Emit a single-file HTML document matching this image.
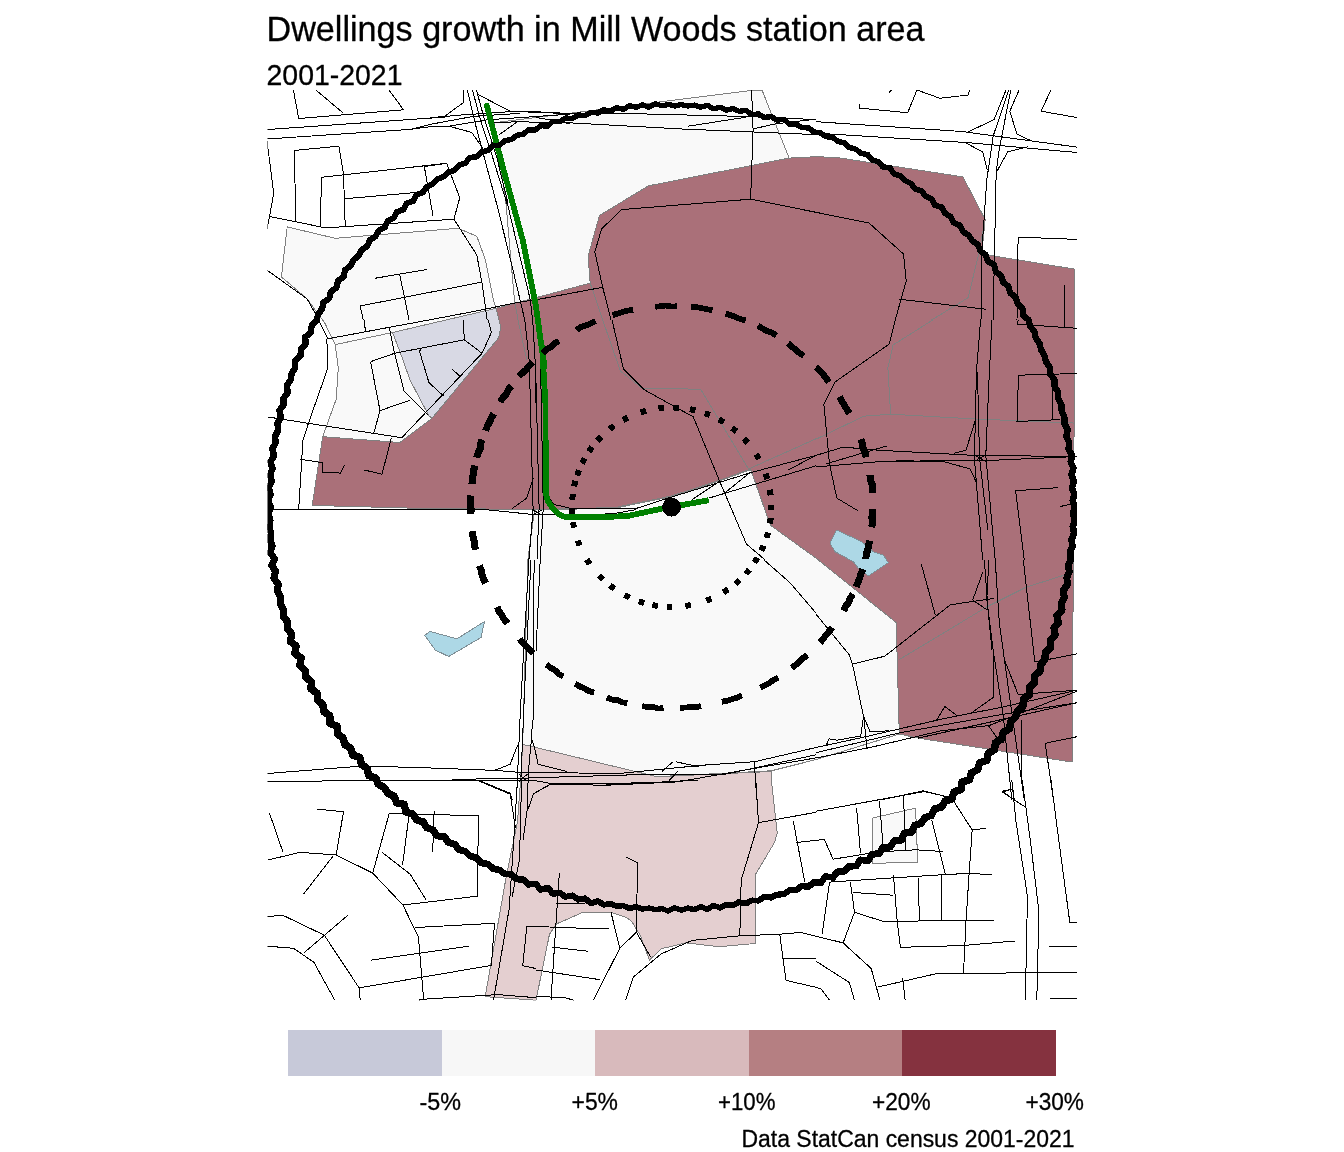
<!DOCTYPE html>
<html lang="en"><head><meta charset="utf-8"><title>Dwellings growth in Mill Woods station area</title>
<style>html,body{margin:0;padding:0;background:#fff}svg{display:block}</style></head>
<body>
<svg width="1344" height="1152" viewBox="0 0 1344 1152">
<defs><clipPath id="panel"><rect x="267.5" y="90" width="809.5" height="910.5"/></clipPath></defs>
<rect width="1344" height="1152" fill="#fff"/>
<g clip-path="url(#panel)" shape-rendering="crispEdges" stroke-linejoin="round">
<polygon points="494.1,122.8 751.6,90.4 762.0,90.0 789.1,158.1 648.5,185.8 599.5,215.4 588.1,256.0 590.2,283.1 515.0,303.6 514.4,299.4 510.1,250.8 505.9,202.2" fill="#f9f9f9" stroke="#808080" stroke-width="1"/>
<polygon points="287.2,226.9 335.2,238.3 458.1,228.3 476.8,236.2 485.2,259.2 493.5,300.8 496.0,308.3 392.5,332.5 399.8,351.2 410.2,380.4 428.9,415.8 432.0,418.3 399.8,442.5 322.7,436.7 336.2,399.2 338.3,367.9 335.2,344.6 324.8,323.1 307.0,298.8 281.4,276.9" fill="#f9f9f9" stroke="#808080" stroke-width="1"/>
<polygon points="392.5,332.5 496.0,308.3 500.8,327.3 498.7,337.7 432.0,418.3 428.9,415.8 410.2,380.4 399.8,351.2" fill="#d8d9e4" stroke="#808080" stroke-width="1"/>
<polygon points="312.2,505.4 322.7,436.7 399.8,442.5 432.0,418.3 498.7,337.7 500.8,327.3 496.0,308.3 536.0,297.7 590.2,283.1 588.1,256.0 599.5,215.4 648.5,185.8 789.1,158.1 816.0,156.7 836.8,157.5 962.9,176.9 985.2,219.6 981.6,254.0 1075.0,269.2 1073.3,560.0 1072.2,762.1 918.1,738.1 899.3,734.0 896.2,622.5 816.0,558.1 770.4,525.2 750.6,469.0 719.3,480.4 671.4,496.0 615.2,507.5 536.0,509.6 410.2,508.1" fill="#aa7079" stroke="#808080" stroke-width="1"/>
<polygon points="536.0,510.0 615.2,508.1 671.4,496.7 719.3,481.0 750.6,469.6 770.4,525.2 816.0,558.1 896.2,622.5 899.3,734.0 816.0,759.6 771.4,770.8 656.8,776.7 536.0,747.5 522.7,744.4 527.9,560.0 534.3,511.7" fill="#f9f9f9" stroke="#808080" stroke-width="1"/>
<polygon points="522.7,744.4 536.0,747.5 656.8,776.7 771.4,771.5 771.4,780.0 777.2,833.1 774.5,842.5 755.2,874.8 755.2,943.5 719.3,946.7 686.0,942.9 661.0,948.8 649.5,960.2 640.2,935.2 631.8,921.7 626.6,917.5 611.0,912.3 582.9,912.3 556.8,923.8 549.5,934.2 536.0,1000.2 485.2,996.7 506.0,877.9 517.5,821.7 520.6,780.0" fill="#e4cfd0" stroke="#808080" stroke-width="1"/>
<polygon points="872.2,818.1 915.6,808.1 917.7,862.3 872.2,863.3" fill="#f9f9f9" stroke="#808080" stroke-width="1"/>
<g fill="none" stroke="#808080" stroke-width="1">
<polyline points="335.2,344.6 392.5,332.5"/>
<polyline points="590.2,283.1 602.7,320.0"/>
<polyline points="602.7,320.0 620.4,371.0 642.2,388.3 700.6,389.2 748.5,469.0"/>
<polyline points="748.5,469.0 816.0,438.8"/>
<polyline points="985.2,219.6 978.5,255.0 968.1,297.7 931.6,320.0"/>
<polyline points="932.7,320.0 893.1,345.0 887.9,367.9 890.6,414.2"/>
<polyline points="816.0,439.2 863.9,416.2 890.6,414.2 975.4,419.0 1075.0,423.1"/>
<polyline points="899.3,659.6 986.8,606.9 1026.4,587.1 1066.0,574.6"/>
<polyline points="505.9,202.2 510.1,250.8 514.4,299.4 518.0,320.0 526.8,359.6"/>
</g>
<polygon points="424.8,635.4 430.0,631.5 457.0,638.8 484.5,621.5 481.0,637.5 448.7,656.5 435.2,650.0" fill="#add8e6" stroke="#7f8f96" stroke-width="1"/>
<polygon points="836.7,530.0 830.0,543.3 835.0,551.7 853.3,561.7 858.3,568.3 868.3,576.0 888.3,562.7 883.3,555.0 873.3,551.7 861.7,541.7" fill="#add8e6" stroke="#7f8f96" stroke-width="1"/>
<g fill="none" stroke="#000" stroke-width="1">
<polyline points="293.5,90.4 298.7,118.5 403.5,109.8 389.3,90.4"/>
<polyline points="316.4,90.4 343.5,113.3"/>
<polyline points="266.8,129.6 444.5,117.1"/>
<polyline points="266.8,139.0 410.2,129.4"/>
<polyline points="266.8,139.0 273.7,193.5 269.5,216.5 266.8,230.0"/>
<polyline points="269.5,216.5 325.8,227.9 453.9,219.2 459.8,197.7 446.6,163.3 424.3,166.5 433.1,216.5"/>
<polyline points="294.5,150.4 338.9,146.2 343.5,173.8 345.2,225.8"/>
<polyline points="294.5,150.4 295.6,221.7"/>
<polyline points="321.6,177.3 446.6,163.3"/>
<polyline points="321.6,177.3 320.2,225.8"/>
<polyline points="344.5,198.8 426.8,191.5"/>
<polyline points="266.8,270.0 307.0,298.8 316.4,315.4"/>
<polyline points="453.9,219.2 476.8,255.0 482.0,283.1 487.2,320.0"/>
<polyline points="374.8,278.3 426.8,269.6"/>
<polyline points="399.8,274.8 409.1,320.0"/>
<polyline points="360.2,306.0 482.0,282.1"/>
<polyline points="360.2,306.0 363.3,320.0"/>
<polyline points="463.3,90.0 463.1,102.8 444.6,116.3 430.0,117.9"/>
<polyline points="467.3,90.0 475.8,125.7 496.7,204.0"/>
<polyline points="472.5,90.0 480.0,118.4 492.5,156.9 507.1,204.0"/>
<polyline points="476.4,90.0 484.2,118.4 496.7,156.9 508.1,204.0"/>
<polyline points="477.9,94.4 510.2,111.3 570.0,113.7"/>
<polyline points="430.0,117.9 461.2,115.0 511.2,111.6 532.6,111.6 570.0,113.5"/>
<polyline points="430.0,124.4 473.8,116.3 519.6,113.4"/>
<polyline points="430.0,126.7 448.8,126.2 486.2,119.9 570.0,114.2"/>
<polyline points="448.8,126.2 471.7,132.4 483.1,148.6"/>
<polyline points="498.8,135.0 517.5,121.7 570.0,123.1"/>
<polyline points="494.1,122.8 517.5,121.7"/>
<polyline points="496.7,204.0 511.3,262.9 520.5,301.9 524.8,320.0"/>
<polyline points="507.5,204.0 518.6,250.8 530.2,299.4 532.6,320.0"/>
<polyline points="318.5,320.0 327.9,338.8 389.3,327.3 428.9,320.0"/>
<polyline points="326.8,338.8 327.9,367.9 308.1,424.2 302.9,440.8 298.7,509.6"/>
<polyline points="364.3,320.0 365.4,331.5"/>
<polyline points="389.3,327.3 394.5,353.3 403.9,390.8 427.9,414.8"/>
<polyline points="370.6,361.7 394.5,353.3 464.3,339.8 482.0,353.3"/>
<polyline points="422.7,347.1 419.5,351.2 428.9,382.5 443.5,396.0"/>
<polyline points="463.3,320.0 464.3,339.8"/>
<polyline points="488.3,320.0 491.4,332.5 482.0,353.3 401.8,437.7 326.8,426.2 267.5,416.9"/>
<polyline points="370.6,361.7 380.0,410.6 373.7,433.5"/>
<polyline points="380.0,410.6 410.2,400.2"/>
<polyline points="451.8,369.0 461.2,377.3"/>
<polyline points="391.4,437.7 382.0,474.2 364.3,470.0"/>
<polyline points="299.8,459.2 322.7,462.7 322.7,472.1 340.4,473.1 344.5,465.4"/>
<polyline points="273.7,509.6 485.2,509.6 536.0,514.8"/>
<polyline points="512.2,508.5 526.8,498.1 533.1,478.3"/>
<polyline points="524.8,320.0 529.3,361.7 533.1,509.6 528.9,560.0"/>
<polyline points="532.7,320.0 535.2,361.7 536.0,403.3"/>
<polyline points="536.0,112.9 619.3,113.3 746.4,116.5 816.0,119.6"/>
<polyline points="536.0,117.5 567.2,122.7 681.8,129.0 816.0,134.6"/>
<polyline points="688.1,126.2 746.4,117.1"/>
<polyline points="752.7,129.0 775.6,123.8 816.0,119.2"/>
<polyline points="751.6,90.4 753.1,130.0 750.6,199.2"/>
<polyline points="621.4,209.6 750.6,199.2 816.0,212.3"/>
<polyline points="621.4,209.6 601.6,229.0 594.8,251.9 602.7,287.3 611.0,320.0"/>
<polyline points="536.0,299.8 602.7,287.3"/>
<polyline points="888.5,93.5 891.4,90.0"/>
<polyline points="859.8,104.0 859.3,108.1 907.7,112.7 917.0,90.0 940.0,98.3 968.1,95.0 969.8,90.0"/>
<polyline points="816.0,121.7 961.8,131.5 1077.0,147.1"/>
<polyline points="816.0,133.1 966.0,142.5 1077.0,152.5"/>
<polyline points="1006.0,90.0 994.1,119.6 967.7,132.1"/>
<polyline points="1008.7,90.0 993.1,136.2 986.8,180.0 981.6,254.0 981.0,320.0"/>
<polyline points="1010.8,90.0 999.3,148.8 996.2,171.7 993.1,320.0"/>
<polyline points="1019.1,90.0 1009.8,111.2 1017.0,134.2 1032.7,141.5"/>
<polyline points="965.0,142.5 982.7,151.9 987.2,169.6"/>
<polyline points="1028.5,146.7 1007.7,151.9 996.2,172.7"/>
<polyline points="1051.0,90.0 1041.0,111.2 1077.0,117.5"/>
<polyline points="1077.0,239.4 1032.7,237.7 1018.1,237.7 1017.0,320.0"/>
<polyline points="1064.3,285.2 1064.3,320.0"/>
<polyline points="816.0,212.3 869.1,223.1 903.5,254.0 906.2,281.0 895.2,320.0"/>
<polyline points="899.3,299.2 985.8,309.2"/>
<polyline points="612.0,320.0 623.5,369.0 644.3,389.8 693.3,416.9 719.3,480.4 746.4,544.0 765.2,560.0"/>
<polyline points="548.5,497.1 553.7,504.4 571.4,508.5 636.0,508.5 671.4,497.1 752.7,472.1 816.0,455.4"/>
<polyline points="536.0,514.8 571.4,514.8 613.1,513.8 636.0,509.6"/>
<polyline points="692.2,499.6 719.3,481.5"/>
<polyline points="723.5,494.0 750.6,472.1"/>
<polyline points="708.9,498.1 816.0,465.8"/>
<polyline points="788.1,470.0 816.0,455.4"/>
<polyline points="536.0,382.5 539.1,507.5 537.0,560.0"/>
<polyline points="540.2,347.1 543.3,507.5 540.2,560.0"/>
<polyline points="895.2,320.0 889.3,344.0 835.2,381.9 823.9,404.4 829.5,463.8 836.8,498.1 857.7,510.6"/>
<polyline points="980.6,320.0 976.4,372.1 975.4,420.0 974.3,457.5 982.7,560.0"/>
<polyline points="992.0,320.0 988.9,382.5 985.8,455.4 995.2,560.0"/>
<polyline points="977.5,372.1 979.5,457.5 987.9,530.4"/>
<polyline points="816.0,455.4 843.1,447.1 878.5,450.2 974.3,455.4 1077.0,456.5"/>
<polyline points="816.0,466.9 878.5,461.7 944.1,460.6 985.8,460.6 1077.0,456.5"/>
<polyline points="826.4,463.8 861.8,453.3 886.8,446.0"/>
<polyline points="896.2,460.6 944.1,461.7 970.2,469.0 976.4,482.5"/>
<polyline points="953.5,453.3 966.0,450.2 975.4,420.0"/>
<polyline points="1018.1,320.0 1017.7,324.2 1077.0,328.3"/>
<polyline points="1064.3,320.0 1064.3,328.3"/>
<polyline points="1077.0,373.5 1018.5,375.2 1017.0,421.5 1059.8,419.6"/>
<polyline points="1052.5,382.5 1052.5,419.6"/>
<polyline points="1057.7,487.7 1015.6,490.8 1024.3,560.0"/>
<polyline points="1060.2,506.5 1070.2,504.4"/>
<polyline points="267.5,773.5 360.2,766.2 412.2,767.3 495.6,770.4 520.6,772.5"/>
<polyline points="267.5,781.2 381.0,780.8 536.0,780.8"/>
<polyline points="451.8,779.4 520.6,778.3"/>
<polyline points="478.9,780.4 510.2,793.3 512.2,800.0"/>
<polyline points="495.6,770.0 510.2,764.2 517.5,745.4"/>
<polyline points="528.9,560.0 520.6,705.8 517.5,776.7 516.4,800.0"/>
<polyline points="531.0,560.0 524.8,685.0 521.0,776.7"/>
<polyline points="534.1,560.0 533.1,720.0"/>
<polyline points="536.0,772.5 619.3,773.5 702.7,765.2 754.8,761.7 816.0,747.5"/>
<polyline points="536.0,777.7 640.2,774.6 723.5,774.6 816.0,754.8"/>
<polyline points="602.7,785.4 677.7,781.9 754.8,768.3 816.0,757.9"/>
<polyline points="536.0,792.3 550.6,784.0"/>
<polyline points="536.0,753.8 538.1,764.2 567.2,771.5"/>
<polyline points="662.0,771.5 672.5,762.1"/>
<polyline points="675.6,761.7 698.5,766.7"/>
<polyline points="669.3,780.4 677.7,771.5"/>
<polyline points="754.3,761.7 756.8,800.0"/>
<polyline points="540.2,560.0 536.0,651.7"/>
<polyline points="764.1,560.0 790.2,582.9 816.0,613.1"/>
<polyline points="816.0,614.2 849.3,654.8 852.5,664.2 863.9,718.3 867.0,748.5"/>
<polyline points="852.5,664.2 884.8,656.2 950.4,604.8 974.3,601.2 994.1,598.5"/>
<polyline points="921.2,563.8 935.2,614.6"/>
<polyline points="982.7,572.5 972.7,600.0 987.2,610.0"/>
<polyline points="984.3,560.0 987.9,607.9 993.1,649.6 1003.5,718.3 1011.8,800.0"/>
<polyline points="988.9,560.0 986.8,598.5 992.0,649.6"/>
<polyline points="995.2,560.0 999.3,622.5 1010.8,705.8 1024.3,800.0"/>
<polyline points="993.1,649.6 993.1,697.5 971.2,713.1"/>
<polyline points="1023.3,560.0 1034.8,662.1 1077.0,653.8"/>
<polyline points="1004.5,660.0 1018.1,694.4 1077.0,690.2"/>
<polyline points="816.0,747.5 863.9,737.1 945.2,718.3 1003.5,706.9 1077.0,690.2"/>
<polyline points="816.0,752.7 899.3,732.9 1003.5,714.2 1077.0,702.7"/>
<polyline points="816.0,757.9 870.2,747.5 941.0,730.8 988.9,725.6 1077.0,691.2"/>
<polyline points="918.1,738.1 1021.2,715.2 1077.0,702.7"/>
<polyline points="935.8,721.5 944.8,706.5 957.7,716.2"/>
<polyline points="828.5,739.2 826.4,745.4"/>
<polyline points="828.5,738.8 836.8,740.2 860.8,736.0 863.5,716.2 870.2,731.9 888.9,730.8"/>
<polyline points="988.9,726.2 999.3,741.2 1004.5,743.3"/>
<polyline points="1021.2,720.4 1021.2,778.8"/>
<polyline points="1077.0,736.7 1045.2,743.3 1053.5,800.0"/>
<polyline points="1002.5,791.2 1012.9,788.8 1013.9,800.0"/>
<polyline points="1002.5,791.2 1011.8,798.5"/>
<polyline points="880.6,800.0 923.3,790.8 949.3,797.5"/>
<polyline points="478.9,781.0 510.2,794.2 515.4,827.9"/>
<polyline points="269.5,813.3 283.1,852.5"/>
<polyline points="317.5,809.2 343.5,811.7 336.2,855.0"/>
<polyline points="267.5,860.2 299.8,852.3 336.2,855.0 372.7,873.1 402.9,905.0 418.5,937.3 423.7,999.8"/>
<polyline points="333.1,856.0 303.5,894.2"/>
<polyline points="372.7,873.1 389.3,813.3 478.5,815.8 477.2,896.2 402.9,905.0"/>
<polyline points="409.1,814.4 402.5,865.4"/>
<polyline points="434.1,811.2 432.7,852.5"/>
<polyline points="382.0,852.3 410.2,874.2 425.8,899.4"/>
<polyline points="267.5,916.5 283.1,915.4 324.3,935.2 359.1,987.9 360.2,1000.2"/>
<polyline points="347.7,915.4 304.3,952.5"/>
<polyline points="267.5,946.2 293.5,948.3 313.9,962.3 334.8,1000.2"/>
<polyline points="415.4,927.5 494.5,923.3 491.4,965.4 359.1,987.9"/>
<polyline points="370.6,960.2 468.5,946.2"/>
<polyline points="418.5,1000.2 423.7,999.2 497.7,994.6 536.0,997.7"/>
<polyline points="517.5,780.0 514.3,832.1 509.1,909.2 493.5,1000.2"/>
<polyline points="521.6,780.0 519.5,859.2 512.2,896.7"/>
<polyline points="536.0,926.9 526.8,926.9 522.7,965.8 536.0,968.5"/>
<polyline points="755.8,780.0 758.5,822.7 741.2,880.0 739.8,935.8"/>
<polyline points="758.5,822.7 816.0,812.3"/>
<polyline points="793.3,821.2 804.8,882.1"/>
<polyline points="796.4,842.5 816.0,840.4"/>
<polyline points="626.0,857.1 637.5,862.9 636.4,932.1 619.8,948.3 593.3,1000.2"/>
<polyline points="636.4,932.1 650.6,957.1"/>
<polyline points="611.0,912.3 619.8,948.3"/>
<polyline points="559.3,873.3 555.8,925.8 551.0,1000.2"/>
<polyline points="555.8,904.0 585.0,903.5"/>
<polyline points="536.0,926.5 583.9,928.3 608.9,928.3"/>
<polyline points="551.6,947.1 587.7,951.2"/>
<polyline points="536.0,970.0 599.5,979.6"/>
<polyline points="536.0,996.7 563.1,997.3 573.9,1000.2"/>
<polyline points="625.6,1000.2 633.5,976.9 661.0,954.0 692.2,940.4 739.8,935.8 779.8,934.2 800.6,932.5 816.0,936.2"/>
<polyline points="779.8,934.2 782.9,958.1 786.0,980.4 816.0,987.3"/>
<polyline points="782.9,958.1 816.0,958.8"/>
<polyline points="536.0,792.5 550.6,784.2 602.7,785.2 698.5,780.0"/>
<polyline points="816.0,811.2 924.3,791.5 951.4,797.7 972.2,830.0 985.8,828.3"/>
<polyline points="972.2,830.0 969.1,873.8 966.0,921.7 963.5,973.3"/>
<polyline points="856.6,807.7 860.4,852.9"/>
<polyline points="879.5,801.2 883.1,846.7"/>
<polyline points="903.5,795.6 905.6,850.4"/>
<polyline points="816.0,840.4 824.3,839.4 833.1,859.2 878.5,851.9 916.0,849.8 943.1,851.5"/>
<polyline points="931.6,819.6 945.2,873.8"/>
<polyline points="829.5,882.1 893.1,877.9 941.0,874.8 970.2,873.3 992.0,874.8"/>
<polyline points="829.5,882.1 822.2,934.2"/>
<polyline points="850.4,882.1 854.5,912.3 843.1,942.9"/>
<polyline points="853.5,892.5 893.1,895.2"/>
<polyline points="854.5,912.3 882.7,921.2 994.1,920.6"/>
<polyline points="893.5,875.4 897.2,921.7 900.4,947.3 961.8,945.6 1015.0,941.0"/>
<polyline points="918.1,877.9 919.5,921.2"/>
<polyline points="941.6,874.8 941.6,920.6"/>
<polyline points="816.0,936.2 843.1,942.9 871.2,968.5 880.0,1000.2"/>
<polyline points="816.0,961.2 849.3,982.5 854.5,1000.2"/>
<polyline points="816.0,987.3 821.2,989.0 829.5,1000.2"/>
<polyline points="878.5,986.9 935.8,973.8 999.3,973.3 1025.4,972.1 1077.0,972.1"/>
<polyline points="902.5,977.9 905.2,1000.2"/>
<polyline points="1011.8,780.0 1016.0,821.7 1027.5,896.7 1026.4,946.7 1025.4,1000.2"/>
<polyline points="1022.2,780.0 1030.6,842.5 1038.9,911.2 1036.8,1000.2"/>
<polyline points="1002.5,791.9 1012.9,788.8 1014.3,800.8"/>
<polyline points="1002.5,791.9 1013.9,799.8 1025.4,807.1"/>
<polyline points="1051.0,780.0 1057.7,832.1 1069.8,922.3 1077.0,922.3"/>
<polyline points="1048.9,946.2 1077.0,946.2"/>
<polyline points="1050.4,998.3 1077.0,998.3"/>
<polyline points="410.2,129.4 430.0,124.4"/>
<polyline points="410.2,129.4 430.0,126.7"/>
<polyline points="428.9,320.0 470.0,312.2 520.5,301.9 536.0,299.8"/>
<polyline points="532.5,720.0 531.5,738.8 528.3,772.1 527.3,808.5 523.1,840.0"/>
<polyline points="531.5,738.8 534.6,748.1 538.1,764.2"/>
<polyline points="520.6,772.5 536.0,772.5"/>
<polyline points="520.6,778.3 536.0,777.7"/>
<polyline points="536.0,780.8 551.2,783.5 610.0,783.5"/>
<polyline points="610.0,783.5 677.7,781.9"/>
<polyline points="551.2,783.5 533.5,794.0 528.3,808.5"/>
<polyline points="519.0,774.2 527.3,781.5"/>
<polyline points="527.3,774.2 519.0,781.5"/>
<polyline points="974.2,454.7 985.6,461.5"/>
<polyline points="985.6,454.7 974.2,461.5"/>
<polyline points="532.2,509.8 542.1,515.0"/>
<polyline points="542.1,509.8 532.2,515.0"/>
</g>
</g>
<g clip-path="url(#panel)" fill="none" stroke="#000" shape-rendering="crispEdges">
<polyline points="486.2,103.3 502.7,166.7 522.7,240.0 536.0,306.7 544.3,366.7 542.2,347.1 545.4,403.3 545.9,493.1 547.8,500.9 552.5,508.2 559.3,514.5 566.0,517.4 600.0,517.3 628.0,515.9 661.0,508.8 708.7,500.2" stroke="#008000" stroke-width="5.8" stroke-linejoin="round" stroke-linecap="butt"/>
<g stroke-linejoin="round" stroke-linecap="round">
<polyline points="1074.6,507.2 1073.1,513.7 1074.9,520.2 1072.8,526.6 1074.1,533.2 1071.6,539.5 1072.4,546.1" stroke-width="6.64"/>
<polyline points="1072.4,546.1 1070.1,552.3 1071.0,559.0 1068.5,565.2 1069.2,571.8 1066.9,578.0 1067.4,584.7" stroke-width="6.90"/>
<polyline points="1067.4,584.7 1063.3,590.5 1064.3,597.3 1061.3,603.2 1062.0,610.1 1056.8,615.4 1058.4,622.6" stroke-width="7.13"/>
<polyline points="1058.4,622.6 1054.0,628.0 1055.1,635.2 1050.4,640.5 1050.7,647.5 1045.5,652.5 1044.8,659.2" stroke-width="7.31"/>
<polyline points="1044.8,659.2 1040.9,664.6 1040.0,671.2 1034.5,675.8 1034.4,682.9 1029.3,687.6 1029.3,694.9" stroke-width="7.43"/>
<polyline points="1029.3,694.9 1023.6,699.2 1022.9,706.3 1017.7,710.7 1015.5,717.0 1010.7,721.6 1009.6,728.6" stroke-width="7.50"/>
<polyline points="1009.6,728.6 1003.3,732.2 1001.7,739.0 995.6,742.6 994.3,749.7 988.3,753.2 986.8,760.4" stroke-width="7.51"/>
<polyline points="986.8,760.4 979.6,762.8 977.7,769.7 971.4,772.8 969.5,779.8 962.2,781.9 960.9,789.5" stroke-width="7.46"/>
<polyline points="960.9,789.5 954.0,791.9 951.9,799.1 944.9,801.1 941.7,807.1 934.5,808.8 931.5,815.3" stroke-width="7.35"/>
<polyline points="931.5,815.3 925.0,817.6 921.3,823.3 914.7,825.3 911.8,832.3 904.4,833.1 901.3,840.0" stroke-width="7.19"/>
<polyline points="901.3,840.0 894.1,840.9 890.3,847.0 882.9,847.4 879.1,853.7 872.0,854.3 868.1,860.6" stroke-width="6.98"/>
<polyline points="868.1,860.6 860.3,859.8 856.3,866.1 849.1,866.2 844.3,871.2 837.4,871.7 832.9,877.5" stroke-width="6.73"/>
<polyline points="832.9,877.5 825.4,876.4 821.0,882.7 813.9,882.3 808.5,886.6 801.5,886.1 796.1,890.2" stroke-width="6.45"/>
<polyline points="796.1,890.2 789.3,890.4 783.7,894.3 777.1,894.6 771.1,897.5 764.3,896.8 758.5,900.6" stroke-width="6.14"/>
<polyline points="758.5,900.6 751.9,900.4 745.9,903.6 739.0,901.9 733.0,905.3 726.4,904.5 720.2,907.7" stroke-width="5.83"/>
<polyline points="720.2,907.7 713.5,905.5 707.3,909.4 700.6,906.7 694.3,909.6 687.8,908.1 681.3,910.2" stroke-width="5.52"/>
<polyline points="681.3,910.2 674.8,907.8 668.3,911.0 661.9,908.7 655.4,909.7 649.0,908.0 642.4,909.1" stroke-width="5.37"/>
<polyline points="642.4,909.1 636.1,906.7 629.4,908.5 623.2,905.6 616.6,906.1 610.4,903.6 603.7,904.7" stroke-width="5.68"/>
<polyline points="603.7,904.7 597.8,901.2 590.8,903.2 585.1,898.4 578.2,899.7 572.6,895.5 565.5,896.8" stroke-width="5.99"/>
<polyline points="565.5,896.8 559.9,892.9 552.9,893.6 547.9,888.0 540.5,889.6 535.7,883.7 528.5,884.4" stroke-width="6.30"/>
<polyline points="528.5,884.4 523.4,879.8 516.7,879.1 511.6,874.4 504.8,873.9 499.5,870.0 492.9,868.6" stroke-width="6.59"/>
<polyline points="492.9,868.6 488.0,864.1 481.3,862.9 476.5,858.1 470.2,856.0 465.4,851.5 459.0,849.5" stroke-width="6.86"/>
<polyline points="459.0,849.5 454.6,844.3 448.1,842.4 444.4,836.4 436.8,835.9 433.1,830.0 426.7,827.6" stroke-width="7.09"/>
<polyline points="426.7,827.6 423.1,821.8 416.4,819.8 412.8,814.0 405.9,812.1 404.2,804.2 396.7,802.8" stroke-width="7.28"/>
<polyline points="396.7,802.8 394.1,796.2 387.8,793.3 384.4,787.6 378.4,784.3 375.7,778.0 368.9,775.4" stroke-width="7.41"/>
<polyline points="368.9,775.4 367.0,768.4 361.6,764.5 359.9,757.5 352.7,755.0 350.8,748.3 344.9,744.6" stroke-width="7.49"/>
<polyline points="344.9,744.6 343.0,738.0 337.5,733.9 337.2,726.3 329.8,723.3 329.8,715.7 324.0,711.6" stroke-width="7.51"/>
<polyline points="324.0,711.6 322.8,704.9 317.8,700.2 317.2,693.2 311.1,689.0 311.4,681.7 305.8,677.2" stroke-width="7.48"/>
<polyline points="305.8,677.2 305.0,670.4 299.8,665.6 301.2,658.0 294.8,653.6 296.2,646.1 290.4,641.3" stroke-width="7.38"/>
<polyline points="290.4,641.3 291.8,634.0 287.2,628.7 287.5,621.8 283.3,616.3 283.2,609.6 280.6,603.6" stroke-width="7.22"/>
<polyline points="280.6,603.6 280.5,596.9 277.3,591.0 278.4,584.2 273.8,578.4 275.7,571.5 271.8,565.6" stroke-width="7.02"/>
<polyline points="271.8,565.6 274.6,558.7 270.2,552.7 272.2,545.9 270.0,539.6 271.0,533.1 269.2,526.7" stroke-width="6.78"/>
<polyline points="269.2,526.7 270.3,520.1 268.2,513.7 271.0,507.2 268.0,500.7 270.6,494.3 268.6,487.7" stroke-width="6.50"/>
<polyline points="268.6,487.7 271.7,481.4 270.2,474.8 272.5,468.5 270.4,461.8 274.1,455.7 272.3,448.9" stroke-width="6.49"/>
<polyline points="272.3,448.9 275.6,442.8 275.1,436.2 278.3,430.2 277.4,423.4 281.0,417.6 279.5,410.6" stroke-width="6.46"/>
<polyline points="279.5,410.6 283.6,404.9 283.5,398.2 287.7,392.7 286.8,385.6 290.7,380.0 291.7,373.5" stroke-width="6.40"/>
<polyline points="291.7,373.5 295.0,367.8 295.2,361.0 300.4,356.1 301.0,349.3 305.5,344.2 305.3,337.0" stroke-width="6.33"/>
<polyline points="305.3,337.0 310.8,332.4 311.7,325.7 316.5,320.8 318.0,314.3 322.0,309.1 323.5,302.5" stroke-width="6.24"/>
<polyline points="323.5,302.5 329.3,298.4 330.8,291.7 336.5,287.7 338.0,280.9 343.7,276.9 345.0,269.9" stroke-width="6.14"/>
<polyline points="345.0,269.9 350.6,266.0 353.4,260.0 358.6,255.8 361.6,249.9 367.2,246.1 370.0,240.0" stroke-width="6.03"/>
<polyline points="370.0,240.0 375.6,236.3 378.9,230.5 384.9,227.4 387.7,221.0 393.7,217.8 396.9,211.8" stroke-width="5.91"/>
<polyline points="396.9,211.8 403.5,209.5 406.7,203.3 413.3,201.0 416.6,194.8 423.0,192.4 426.7,186.8" stroke-width="5.80"/>
<polyline points="426.7,186.8 432.8,184.1 437.3,179.1 443.5,176.7 448.3,172.2 454.7,170.2 459.1,165.0" stroke-width="5.69"/>
<polyline points="459.1,165.0 465.4,163.0 469.8,157.7 476.7,156.7 481.4,151.9 488.1,150.5 492.9,145.7" stroke-width="5.58"/>
<polyline points="492.9,145.7 499.8,145.1 504.8,140.6 511.4,139.5 516.7,135.3 523.2,134.2 528.5,129.8" stroke-width="5.49"/>
<polyline points="528.5,129.8 535.4,129.9 540.8,125.7 547.7,126.0 553.0,121.2 560.0,121.8 565.6,118.0" stroke-width="5.41"/>
<polyline points="565.6,118.0 572.5,118.5 578.3,114.9 585.1,115.7 591.0,112.2 597.7,113.0 603.7,109.7" stroke-width="5.36"/>
<polyline points="603.7,109.7 610.5,111.3 616.5,107.5 623.3,109.5 629.4,105.6 636.1,107.3 642.4,104.9" stroke-width="5.32"/>
<polyline points="642.4,104.9 649.0,107.3 655.3,103.8 661.9,105.7 668.4,104.5 674.8,106.0 681.3,104.6" stroke-width="5.30"/>
<polyline points="681.3,104.6 687.8,106.0 694.3,105.1 700.6,107.3 707.3,105.2 713.5,108.8 720.2,107.3" stroke-width="5.31"/>
<polyline points="720.2,107.3 726.3,110.1 733.1,108.5 739.2,111.3 746.0,110.4 751.7,114.7 758.5,113.8" stroke-width="5.33"/>
<polyline points="758.5,113.8 764.3,117.5 771.2,116.6 777.0,120.1 784.0,119.3 789.3,124.1 796.1,124.1" stroke-width="5.38"/>
<polyline points="796.1,124.1 801.7,127.6 808.5,127.9 813.9,131.9 820.5,132.9 826.0,136.7 832.8,137.2" stroke-width="5.45"/>
<polyline points="832.8,137.2 838.0,141.5 844.5,142.8 849.4,147.5 855.8,149.2 861.0,153.3 867.6,154.6" stroke-width="5.54"/>
<polyline points="867.6,154.6 872.2,159.8 878.5,161.8 882.9,167.0 890.1,167.8 893.8,173.9 900.4,175.8" stroke-width="5.63"/>
<polyline points="900.4,175.8 904.9,180.5 910.9,183.4 914.9,188.7 921.4,191.0 925.6,196.1 931.6,199.1" stroke-width="5.74"/>
<polyline points="931.6,199.1 934.8,205.2 941.7,207.2 945.0,213.2 950.6,216.7 953.7,222.8 960.2,225.5" stroke-width="5.86"/>
<polyline points="960.2,225.5 963.0,231.8 968.7,235.3 972.3,240.8 977.9,244.5 980.4,250.9 985.6,255.0" stroke-width="5.97"/>
<polyline points="985.6,255.0 987.9,261.4 994.1,264.8 995.8,271.6 1001.2,275.8 1003.2,282.2 1008.4,286.5" stroke-width="6.09"/>
<polyline points="1008.4,286.5 1010.3,293.0 1015.8,297.2 1017.6,303.7 1022.5,308.4 1023.3,315.3 1028.4,319.9" stroke-width="6.19"/>
<polyline points="1028.4,319.9 1030.2,326.3 1034.5,331.4 1035.7,338.0 1039.5,343.4 1041.1,349.8 1044.5,355.4" stroke-width="6.29"/>
<polyline points="1044.5,355.4 1045.9,361.8 1049.6,367.3 1050.2,374.0 1054.4,379.4 1054.4,386.2 1058.0,391.9" stroke-width="6.37"/>
<polyline points="1058.0,391.9 1058.2,398.6 1061.3,404.5 1061.7,411.0 1064.3,417.1 1064.6,423.7 1067.6,429.7" stroke-width="6.43"/>
<polyline points="1067.6,429.7 1066.4,436.5 1069.2,442.6 1068.6,449.2 1072.1,455.3 1070.7,462.0 1073.4,468.2" stroke-width="6.47"/>
<polyline points="1073.4,468.2 1071.5,474.9 1074.0,481.2 1071.9,487.8 1074.5,494.2 1072.7,500.7 1074.6,507.2" stroke-width="6.50"/>
</g>
<polyline points="655.2,306.9 660.6,306.2 665.9,305.5 671.3,306.5 676.7,306.3" stroke-width="5.70"/>
<polyline points="691.1,307.1 696.5,307.2 701.8,308.1 707.0,309.1 712.3,310.4" stroke-width="5.73"/>
<polyline points="725.7,313.6 730.7,315.2 735.7,317.0 740.6,319.2 745.7,320.4" stroke-width="5.84"/>
<polyline points="757.9,325.7 762.3,328.5 766.9,331.0 772.0,332.6 776.2,335.6" stroke-width="6.02"/>
<polyline points="787.9,343.3 791.8,346.6 795.7,349.8 799.6,353.1 803.9,355.9" stroke-width="6.24"/>
<polyline points="815.9,367.2 819.7,370.5 823.0,374.1 826.0,378.1 828.9,382.1" stroke-width="6.49"/>
<polyline points="839.6,396.8 841.9,401.1 844.3,405.2 846.8,409.3 849.4,413.4" stroke-width="6.74"/>
<polyline points="860.8,439.3 862.3,443.7 863.2,448.3 865.0,452.7 866.3,457.2" stroke-width="6.98"/>
<polyline points="870.0,474.8 870.3,479.4 872.0,483.9 872.5,488.5 872.1,493.2" stroke-width="7.08"/>
<polyline points="872.6,508.6 872.6,513.2 871.9,517.8 872.8,522.5 871.6,527.1" stroke-width="7.10"/>
<polyline points="869.8,540.6 868.7,545.1 867.8,549.7 866.2,554.1 865.9,558.8" stroke-width="7.04"/>
<polyline points="862.8,569.1 861.1,573.5 859.7,578.0 858.0,582.4 856.2,586.8" stroke-width="6.93"/>
<polyline points="852.9,594.0 850.3,598.1 848.5,602.6 845.5,606.4 843.8,610.9" stroke-width="6.78"/>
<polyline points="832.6,627.6 829.3,631.2 826.0,634.9 823.2,639.0 820.0,642.7" stroke-width="6.53"/>
<polyline points="807.6,655.2 803.4,658.0 799.5,661.3 795.8,664.8 792.0,668.1" stroke-width="6.27"/>
<polyline points="778.4,677.5 773.7,679.8 769.5,682.9 764.9,685.3 760.2,687.6" stroke-width="6.03"/>
<polyline points="742.0,695.5 737.2,697.6 732.1,699.2 727.0,700.8 721.8,701.8" stroke-width="5.83"/>
<polyline points="701.1,706.0 695.9,707.3 690.5,707.1 685.1,707.5 679.8,708.0" stroke-width="5.71"/>
<polyline points="663.5,708.0 658.1,708.5 652.9,706.8 647.4,707.1 642.1,706.0" stroke-width="5.71"/>
<polyline points="627.3,703.3 622.1,702.2 617.2,699.9 611.7,699.6 606.8,697.5" stroke-width="5.80"/>
<polyline points="594.1,692.6 589.0,691.1 584.4,688.5 579.7,686.4 575.2,683.6" stroke-width="5.96"/>
<polyline points="563.2,676.4 558.6,674.0 555.0,670.2 550.5,667.7 546.5,664.5" stroke-width="6.17"/>
<polyline points="533.4,653.2 529.9,649.7 526.0,646.5 522.6,642.9 519.7,638.8" stroke-width="6.43"/>
<polyline points="507.6,623.4 504.4,619.7 502.0,615.4 499.1,611.5 497.1,607.0" stroke-width="6.69"/>
<polyline points="485.6,583.3 483.6,579.0 481.9,574.6 481.1,569.9 479.3,565.6" stroke-width="6.94"/>
<polyline points="475.1,549.6 474.9,544.9 473.9,540.3 472.9,535.8 472.0,531.2" stroke-width="7.06"/>
<polyline points="470.7,513.9 471.2,509.3 470.1,504.7 470.6,500.1 470.9,495.5" stroke-width="7.10"/>
<polyline points="472.0,483.8 472.4,479.1 473.1,474.5 473.8,469.9 475.0,465.4" stroke-width="7.06"/>
<polyline points="476.8,457.7 478.0,453.2 480.1,448.9 480.3,444.1 482.2,439.8" stroke-width="6.98"/>
<polyline points="485.7,430.8 487.2,426.3 489.5,422.1 491.5,417.8 493.7,413.6" stroke-width="6.85"/>
<polyline points="500.3,402.0 502.7,397.8 506.2,394.3 508.1,389.7 511.3,386.0" stroke-width="6.65"/>
<polyline points="519.0,376.3 522.6,372.9 526.2,369.4 529.4,365.6 532.7,361.9" stroke-width="6.44"/>
<polyline points="542.6,353.1 546.3,349.6 550.8,347.1 554.4,343.4 558.8,340.8" stroke-width="6.21"/>
<polyline points="576.6,330.1 580.9,327.0 585.9,325.4 590.8,323.4 595.5,321.1" stroke-width="5.95"/>
<polyline points="612.5,315.1 617.6,313.6 622.7,311.9 627.9,310.6 633.2,309.9" stroke-width="5.78"/>
<polyline points="572.2,499.7 572.8,494.2" stroke-width="6.0"/>
<polyline points="574.1,486.3 575.4,480.9" stroke-width="6.0"/>
<polyline points="577.1,475.4 579.0,470.2" stroke-width="6.0"/>
<polyline points="582.1,463.3 584.7,458.4" stroke-width="6.0"/>
<polyline points="588.8,451.7 592.0,447.1" stroke-width="6.0"/>
<polyline points="597.4,440.6 601.2,436.6" stroke-width="6.0"/>
<polyline points="609.6,429.2 614.0,425.8" stroke-width="6.0"/>
<polyline points="623.0,420.1 628.0,417.6" stroke-width="6.0"/>
<polyline points="640.7,412.4 646.1,410.8" stroke-width="6.0"/>
<polyline points="658.5,408.4 664.1,407.8" stroke-width="6.0"/>
<polyline points="673.4,407.5 679.0,407.8" stroke-width="6.0"/>
<polyline points="690.0,409.2 695.4,410.4" stroke-width="6.0"/>
<polyline points="704.7,413.1 709.9,415.1" stroke-width="6.0"/>
<polyline points="718.9,419.4 723.7,422.2" stroke-width="6.0"/>
<polyline points="732.0,427.9 736.4,431.4" stroke-width="6.0"/>
<polyline points="744.0,438.6 747.7,442.8" stroke-width="6.0"/>
<polyline points="756.1,454.2 758.9,459.0" stroke-width="6.0"/>
<polyline points="765.5,473.7 767.2,479.1" stroke-width="6.0"/>
<polyline points="769.7,489.7 770.6,495.2" stroke-width="6.0"/>
<polyline points="771.3,504.5 771.3,510.1" stroke-width="6.0"/>
<polyline points="770.7,518.0 770.0,523.5" stroke-width="6.0"/>
<polyline points="768.0,532.5 766.5,537.9" stroke-width="6.0"/>
<polyline points="763.6,545.6 761.3,550.7" stroke-width="6.0"/>
<polyline points="757.5,557.8 754.5,562.5" stroke-width="6.0"/>
<polyline points="749.4,569.6 745.8,573.8" stroke-width="6.0"/>
<polyline points="739.7,580.0 735.5,583.7" stroke-width="6.0"/>
<polyline points="728.1,589.4 723.4,592.4" stroke-width="6.0"/>
<polyline points="711.4,598.6 706.3,600.7" stroke-width="6.0"/>
<polyline points="690.9,605.0 685.4,605.9" stroke-width="6.0"/>
<polyline points="672.4,606.9 666.8,606.8" stroke-width="6.0"/>
<polyline points="657.9,606.0 652.4,605.0" stroke-width="6.0"/>
<polyline points="644.1,603.0 638.8,601.3" stroke-width="6.0"/>
<polyline points="629.5,597.6 624.5,595.0" stroke-width="6.0"/>
<polyline points="614.4,588.9 609.9,585.5" stroke-width="6.0"/>
<polyline points="603.1,579.6 599.1,575.7" stroke-width="6.0"/>
<polyline points="589.7,564.1 586.7,559.4" stroke-width="6.0"/>
<polyline points="579.6,545.7 577.6,540.5" stroke-width="6.0"/>
<polyline points="574.0,527.7 573.0,522.2" stroke-width="6.0"/>
<polyline points="572.1,514.2 571.9,508.6" stroke-width="6.0"/>
<circle cx="671.6" cy="507.2" r="9.4" fill="#000" stroke="none"/>
</g>
<g shape-rendering="crispEdges">
<rect x="288.00" y="1029.5" width="154.10" height="46.5" fill="#c7c9d9"/>
<rect x="441.60" y="1029.5" width="154.10" height="46.5" fill="#f7f7f7"/>
<rect x="595.20" y="1029.5" width="154.10" height="46.5" fill="#d8babc"/>
<rect x="748.80" y="1029.5" width="154.10" height="46.5" fill="#b57f82"/>
<rect x="902.40" y="1029.5" width="153.60" height="46.5" fill="#85323f"/>
</g>
<g font-family="'Liberation Sans', Arial, sans-serif" fill="#000" stroke="#000" stroke-width="0.3" stroke-linejoin="round">
<text x="266.50" y="41.00" font-size="35" textLength="658.00" lengthAdjust="spacingAndGlyphs">Dwellings growth in Mill Woods station area</text>
<text x="266.50" y="84.70" font-size="29" textLength="136.00" lengthAdjust="spacingAndGlyphs">2001-2021</text>
<text x="741.50" y="1147.00" font-size="23.3" textLength="333.00" lengthAdjust="spacingAndGlyphs">Data StatCan census 2001-2021</text>
<text x="419.53" y="1109.80" font-size="23.3" textLength="41.48" lengthAdjust="spacingAndGlyphs">-5%</text>
<text x="571.52" y="1109.80" font-size="23.3" textLength="46.47" lengthAdjust="spacingAndGlyphs">+5%</text>
<text x="718.02" y="1109.80" font-size="23.3" textLength="57.47" lengthAdjust="spacingAndGlyphs">+10%</text>
<text x="872.00" y="1109.80" font-size="23.3" textLength="58.51" lengthAdjust="spacingAndGlyphs">+20%</text>
<text x="1025.52" y="1109.80" font-size="23.3" textLength="58.46" lengthAdjust="spacingAndGlyphs">+30%</text>
</g>
</svg>
</body></html>
